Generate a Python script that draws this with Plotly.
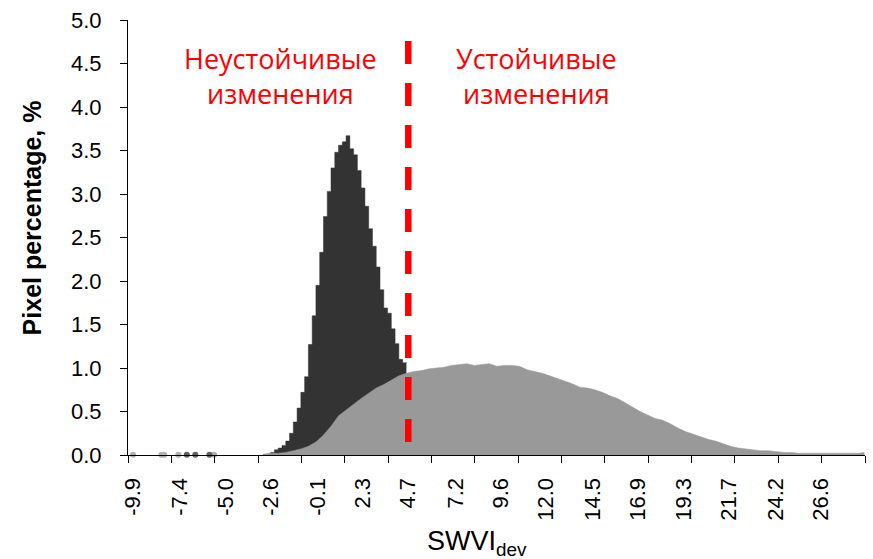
import plotly.graph_objects as go

# Histogram of SWVI deviation: unstable changes (dark) and stable changes (gray)
unstable_x = [-3.0, -2.8, -2.6, -2.4, -2.2, -2.0, -1.8, -1.6, -1.4, -1.2, -1.0, -0.8,
              -0.6, -0.4, -0.2, 0.0, 0.2, 0.4, 0.6, 0.8, 1.0, 1.2, 1.4, 1.6, 1.8, 2.0,
              2.2, 2.4, 2.6, 2.8, 3.0, 3.2, 3.4, 3.6, 3.8, 4.0, 4.2, 4.4, 4.6]
unstable_y = [0.004, 0.01, 0.03, 0.06, 0.08, 0.11, 0.16, 0.25, 0.38, 0.54, 0.72, 0.90,
              1.27, 1.60, 1.95, 2.33, 2.74, 3.03, 3.30, 3.48, 3.56, 3.60, 3.67, 3.52, 3.45, 3.27,
              3.07, 2.86, 2.60, 2.40, 2.16, 1.90, 1.69, 1.63, 1.45, 1.28, 1.10, 1.06, 1.07]

stable_x = [-3.0, -2.6, -2.2, -1.8, -1.4, -1.0, -0.6, -0.2, 0.2, 0.6, 1.0, 1.4, 1.8, 2.2,
            2.6, 3.0, 3.4, 3.8, 4.2, 4.6, 5.0, 5.4, 5.8, 6.2, 6.6, 7.0, 7.4, 7.8, 8.2, 8.6,
            9.0, 9.4, 9.8, 10.2, 10.6, 11.0, 11.4, 11.8, 12.2, 12.6, 13.0, 13.4, 13.8, 14.2,
            14.6, 15.0, 15.4, 15.8, 16.2, 16.6, 17.0, 17.4, 17.8, 18.2, 18.6, 19.0, 19.4,
            19.8, 20.2, 20.6, 21.0, 21.4, 21.8, 22.2, 22.6, 23.0, 23.4, 23.8, 24.2, 24.6,
            25.0, 25.4, 25.8, 26.2, 26.6, 27.0, 27.4, 27.8, 28.2, 28.6, 28.9]
stable_y = [0.01, 0.02, 0.02, 0.03, 0.05, 0.07, 0.10, 0.15, 0.23, 0.33, 0.45, 0.52, 0.59, 0.65,
            0.71, 0.77, 0.81, 0.86, 0.91, 0.94, 0.96, 0.97, 0.99, 1.00, 1.01, 1.03, 1.04, 1.05, 1.03, 1.04,
            1.05, 1.02, 1.03, 1.03, 1.02, 0.98, 0.96, 0.94, 0.91, 0.88, 0.85, 0.82, 0.78, 0.77,
            0.75, 0.72, 0.68, 0.65, 0.60, 0.55, 0.50, 0.46, 0.42, 0.40, 0.36, 0.31, 0.27,
            0.24, 0.21, 0.18, 0.16, 0.13, 0.10, 0.08, 0.07, 0.06, 0.05, 0.05, 0.04, 0.03,
            0.03, 0.02, 0.02, 0.02, 0.02, 0.02, 0.02, 0.02, 0.02, 0.02, 0.03]

# isolated low-count bins in the far left tail
tail_stable_x = [-9.9, -8.4, -8.25, -7.5, -5.6]
tail_unstable_x = [-7.05, -6.6, -5.85]
tail_level = 0.004

x_tick_labels = ["-9.9", "-7.4", "-5.0", "-2.6", "-0.1", "2.3", "4.7", "7.2", "9.6",
                 "12.0", "14.5", "16.9", "19.3", "21.7", "24.2", "26.6"]
x_tick_vals = [float(t) for t in x_tick_labels]
y_tick_vals = [0.0, 0.5, 1.0, 1.5, 2.0, 2.5, 3.0, 3.5, 4.0, 4.5, 5.0]

threshold = 4.7

DARK = "#333333"
GRAY = "#999999"
RED = "#ff0000"
AXIS_FONT = "Liberation Sans, Arial, sans-serif"

fig = go.Figure()

fig.add_trace(go.Scatter(
    x=unstable_x, y=unstable_y, mode="lines", line_shape="hv",
    line=dict(color=DARK, width=0.5), fill="tozeroy", fillcolor=DARK,
    showlegend=False, hoverinfo="skip"))

fig.add_trace(go.Scatter(
    x=stable_x, y=stable_y, mode="lines",
    line=dict(color=GRAY, width=0.5), fill="tozeroy", fillcolor=GRAY,
    showlegend=False, hoverinfo="skip"))

fig.add_trace(go.Scatter(
    x=tail_stable_x, y=[tail_level] * len(tail_stable_x), mode="markers",
    marker=dict(color="#b0b0b0", size=6), cliponaxis=False,
    showlegend=False, hoverinfo="skip"))

fig.add_trace(go.Scatter(
    x=tail_unstable_x, y=[tail_level] * len(tail_unstable_x), mode="markers",
    marker=dict(color="#606060", size=6), cliponaxis=False,
    showlegend=False, hoverinfo="skip"))

# threshold separating unstable and stable changes
fig.add_shape(type="line", x0=threshold, x1=threshold, y0=4.76, y1=0.15,
              xref="x", yref="y", layer="above",
              line=dict(color=RED, width=6.5, dash="23px,19px"))

fig.add_annotation(x=-2.1, y=4.36, xref="x", yref="y",
                   text="Неустойчивые<br>изменения", showarrow=False,
                   font=dict(family="Open Sans, sans-serif", size=27, color=RED),
                   align="center")
fig.add_annotation(x=11.5, y=4.36, xref="x", yref="y",
                   text="Устойчивые<br>изменения", showarrow=False,
                   font=dict(family="Open Sans, sans-serif", size=27, color=RED),
                   align="center")

# axis titles
fig.add_annotation(x=-0.131, y=0.545, xref="paper", yref="paper",
                   xanchor="center", yanchor="middle",
                   text="<b>Pixel percentage, %</b>", textangle=-90, showarrow=False,
                   font=dict(family=AXIS_FONT, size=25, color="black"))
fig.add_annotation(x=8.35, y=-0.158, xref="x", yref="paper",
                   xanchor="center", yanchor="top",
                   text="SWVI<sub>dev</sub>", showarrow=False,
                   font=dict(family=AXIS_FONT, size=27, color="black"))

fig.update_layout(
    width=873, height=559,
    margin=dict(l=128, r=8, t=20, b=104),
    paper_bgcolor="white", plot_bgcolor="white",
    xaxis=dict(
        range=[-10.17, 28.93], tickmode="array", tickvals=x_tick_vals,
        ticktext=x_tick_labels, tickangle=-90, ticks="", showgrid=False,
        zeroline=False, showline=True, linecolor="black", linewidth=1.2,
        tickfont=dict(family=AXIS_FONT, size=22, color="black"),
        ticklabelstandoff=13,
        minor=dict(tickmode="linear", tick0=-10.17, dtick=2.3, ticks="outside",
                   ticklen=7, tickcolor="black", tickwidth=1.2, showgrid=False),
    ),
    yaxis=dict(
        range=[0, 5], tickmode="array", tickvals=y_tick_vals,
        ticktext=[f"{v:.1f}" for v in y_tick_vals],
        ticks="outside", ticklen=7, tickcolor="black", tickwidth=1.2,
        showgrid=False, zeroline=False, showline=True, linecolor="black", linewidth=1.2,
        tickfont=dict(family=AXIS_FONT, size=22, color="black"),
        ticklabelstandoff=14,
    ),
)

fig.write_html("out.html")
